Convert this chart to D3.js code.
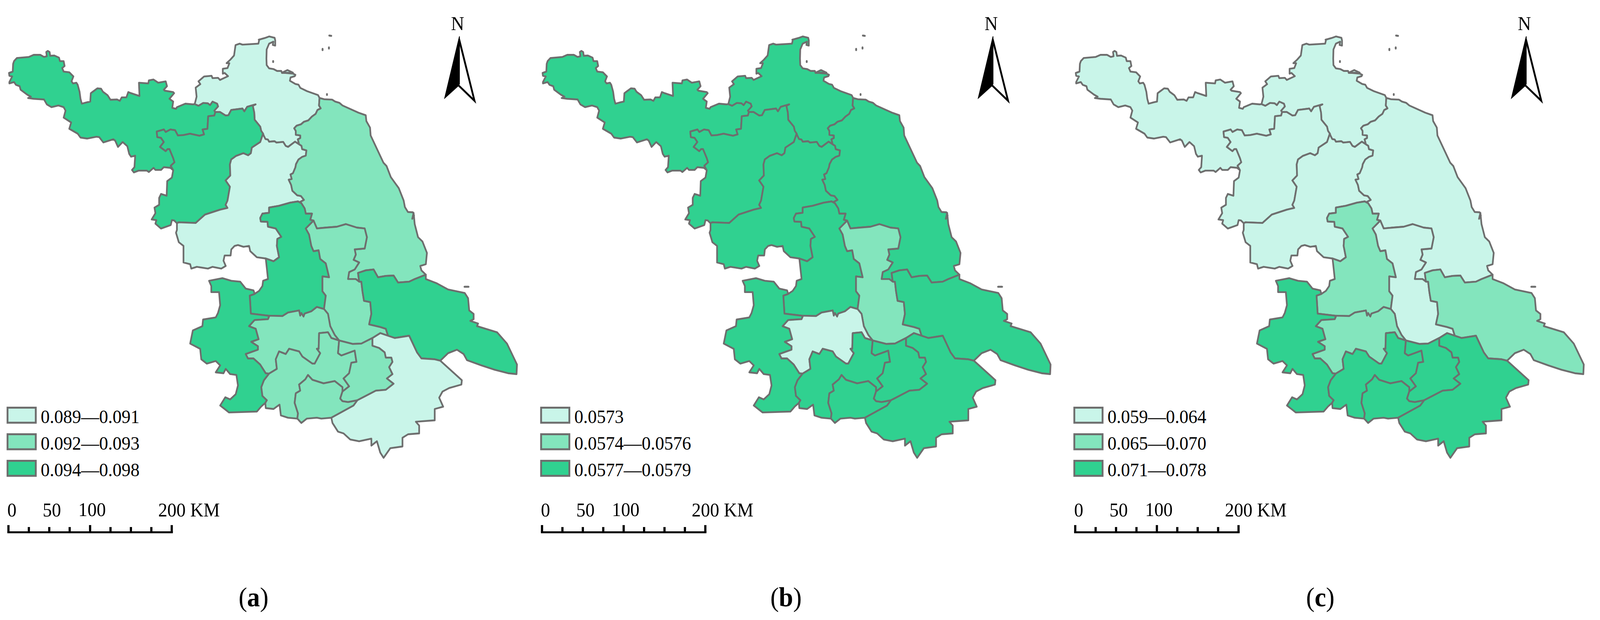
<!DOCTYPE html>
<html><head><meta charset="utf-8">
<script src="https://cdn.jsdelivr.net/npm/d3@7"></script>
<style>html,body{margin:0;padding:0;background:#fff;overflow:hidden;width:100%;height:100%}svg{display:block;width:100vw;height:100vh}text{font-family:"Liberation Serif",serif;fill:#000}</style>
</head><body><div id="chart"></div>
<script>
// ---- classes per region, one list per panel (0 = low, 1 = mid, 2 = high)
const regions   = ["NW","N","C1","C2","E","YZ","TZ","NT","NJ","ZJ","CZ","YX","WX","SZ"];
const classesA  = [2,0,2,0,1,2,1,2,2,1,1,1,1,0];
const classesB  = [2,2,2,2,2,2,1,2,2,0,2,2,2,2];
const classesC  = [0,0,0,0,0,1,0,1,2,1,2,2,2,2];
const legendA   = ["0.089\u20140.091","0.092\u20140.093","0.094\u20140.098"];
const legendB   = ["0.0573","0.0574\u20140.0576","0.0577\u20140.0579"];
const legendC   = ["0.059\u20140.064","0.065\u20140.070","0.071\u20140.078"];
const captions  = ["a","b","c"];
const classColors = ["#C9F5E9","#83E5BD","#30D190"];
const scaleKm   = [0,25,50,75,100,125,150,175,200];
const scaleKmLabels = [0,50,100,200];

// ---- map sheets: traced geometry in three digitising frames
const sheets = {
  f1:{x:d3.scaleLinear([0,1568],[0,800]),  y:d3.scaleLinear([0,1568],[60,620])},
  f2:{x:d3.scaleLinear([0,1568],[500,1450]),y:d3.scaleLinear([0,1568],[500,1200])},
  f8:{x:d3.scaleLinear([0,1500],[700,1200]),y:d3.scaleLinear([0,1500],[60,560])}
};
const arcs = {
 nwOuter:["f1",[[1040,578],[1030,580],[990,575],[945,600],[940,612],[920,605],[925,560],[905,540],[930,500],[925,492],[880,482],[875,475],[892,450],[885,415],[845,425],[820,402],[795,408],[792,430],[742,425],[745,520],[700,500],[685,492],[675,530],[650,530],[640,555],[625,545],[590,547],[575,515],[550,490],[540,468],[520,465],[495,490],[485,500],[482,560],[465,565],[437,575],[430,540],[425,490],[415,440],[408,425],[390,430],[382,415],[392,380],[370,350],[340,345],[332,320],[345,305],[340,270],[320,270],[315,245],[290,230],[268,232],[265,205],[255,197],[247,205],[250,235],[235,240],[215,225],[180,225],[155,240],[90,248],[75,270],[70,290],[68,345],[48,355],[50,375],[65,380],[50,420],[50,430],[75,420],[85,440],[105,450],[110,475],[145,510],[165,525],[150,535],[180,540],[235,545],[250,580],[275,600],[312,588],[340,600],[350,625],[340,675],[380,710],[370,755],[415,790],[430,818],[465,825],[515,812],[530,815],[552,853],[605,830],[615,840],[630,885],[655,850],[680,880],[690,935],[700,955],[722,948],[718,1030],[705,1050],[715,1068],[740,1055],[785,1055],[795,1065],[820,1035],[830,1050],[860,1050],[875,1030],[910,1035],[925,1052]]],
 nwC1:["f1",[[925,1052],[912,1020],[932,995],[925,965],[905,900],[895,900],[885,915],[855,885],[875,850],[860,820],[840,815],[837,775],[875,760],[885,778],[910,760],[935,765],[950,803],[980,800],[1015,790],[1065,805],[1090,795],[1082,760],[1108,755],[1112,665],[1145,660],[1150,635]]],
 nwN:["f1",[[1150,635],[1145,625],[1165,595],[1160,575],[1135,560],[1122,585],[1110,572],[1085,570],[1060,590],[1040,578]]],
 nOuterA:["f1",[[1040,578],[1050,525],[1045,460],[1070,435],[1060,415],[1090,380],[1130,375],[1135,392],[1165,390],[1175,405],[1218,378],[1200,355],[1190,360],[1190,325],[1215,320],[1225,285],[1210,285],[1230,260],[1250,230],[1258,155],[1280,145],[1295,152],[1380,145],[1385,115]]],
 nOuterB:["f8",[[15,125],[65,112],[100,100],[145,110],[150,130],[150,170],[130,165],[135,140],[100,155],[80,200],[78,270],[80,320],[100,345],[135,350],[165,365],[200,365],[205,380],[295,378],[250,358],[205,378],[295,385],[315,395],[310,405],[275,415],[270,440],[315,465],[340,470],[355,495],[410,520],[500,550],[512,572]]],
 nE:["f8",[[512,572],[508,630],[522,652],[495,665],[480,695],[450,715],[420,745],[385,755],[360,775],[325,785],[305,805],[318,825],[318,855],[355,860],[355,880],[335,890],[345,928]]],
 nC2:["f8",[[345,928],[312,908],[255,948],[235,940],[215,910],[160,915],[145,905],[100,908],[90,892],[70,888],[55,860]]],
 nC1:["f1",[[1150,635],[1175,635],[1205,660],[1220,658],[1235,620],[1295,610],[1305,630],[1320,598],[1365,580],[1350,590],[1358,640],[1360,690],[1390,740],[1395,770],[1405,790]]],
 c1C2:["f1",[[1405,790],[1390,850],[1345,890],[1340,930],[1325,945],[1300,930],[1260,950],[1235,975],[1228,1010],[1230,1090],[1205,1125],[1228,1170],[1215,1270],[1205,1300],[1215,1322],[1175,1335],[1095,1370],[1045,1430],[955,1425],[945,1432]]],
 c1Outer:["f1",[[925,1052],[918,1105],[893,1130],[890,1235],[860,1222],[850,1250],[850,1300],[825,1320],[830,1360],[810,1405],[835,1410],[830,1435],[860,1470],[912,1445],[918,1410],[930,1412],[945,1432]]],
 c2OuterA:["f1",[[945,1432],[945,1480],[940,1500],[955,1568]]],
 c2OuterB:["f2",[[0,290],[0,350],[0,385],[30,395],[35,420],[60,410],[110,420],[130,410],[170,420],[190,405],[180,375],[185,345],[212,345],[215,310],[230,290],[245,285],[270,295],[295,290],[300,320],[330,355],[370,362]]],
 c2Yz:["f2",[[370,362],[405,378],[430,355],[420,290],[422,250],[440,238],[415,190],[380,180],[378,152],[348,150],[345,130],[355,105],[385,100],[385,70],[430,60],[480,42],[515,35]]],
 c2E:["f8",[[345,928],[365,940],[370,965],[405,975],[400,1015],[370,1025],[340,1045],[320,1080],[315,1105],[295,1150],[275,1160],[285,1195],[260,1200],[280,1240],[290,1285],[330,1320],[360,1325],[385,1355],[345,1375],[345,1382]]],
 eYz:["f2",[[515,35],[530,45],[545,75],[550,105],[578,105],[570,140],[585,145]]],
 eTz:["f2",[[585,145],[600,190],[640,185],[690,180],[730,165],[780,185],[815,190],[825,240],[815,305],[770,310],[775,340],[765,370],[790,385],[770,425],[745,440],[740,480],[775,480],[790,495]]],
 eNt:["f2",[[790,495],[785,445],[820,430],[855,425],[875,470],[910,462],[945,460],[965,500],[1015,495],[1040,480],[1090,455]]],
 eCoastA:["f8",[[512,572],[550,582],[615,585],[640,600],[675,610],[700,630],[830,685],[890,705],[895,750],[925,800],[930,860],[1035,1070],[1060,1095],[1095,1180],[1160,1265],[1200,1360],[1210,1410],[1235,1448],[1275,1450],[1285,1475],[1270,1500]]],
 eCoastB:["f2",[[1035,100],[1040,165],[1055,240],[1075,265],[1095,330],[1090,395],[1065,405],[1070,430],[1090,455]]],
 yzW1:["f2",[[370,362],[375,420],[380,480],[358,490],[355,520],[340,548],[320,565]]],
 yzNj:["f2",[[320,565],[298,575],[303,678],[380,690]]],
 yzZj:["f2",[[380,690],[445,692],[470,672],[520,660],[525,690],[530,675],[540,695],[545,678],[575,665],[600,640],[632,652]]],
 yzTz:["f2",[[585,145],[550,190],[565,225],[575,290],[585,320],[608,315],[615,365],[640,390],[655,470],[625,465],[625,550],[640,575],[632,652]]],
 njZj:["f2",[[380,690],[385,695],[380,710],[320,715],[295,750],[325,765],[338,825],[305,840],[335,865],[335,885],[280,910],[290,935],[315,935],[345,970],[370,1020],[385,1022]]],
 njOuter:["f2",[[320,565],[315,545],[280,535],[255,495],[215,490],[175,475],[115,490],[125,520],[125,555],[160,555],[165,630],[155,675],[145,700],[88,712],[85,750],[42,775],[30,850],[75,880],[80,940],[105,965],[145,950],[165,975],[145,1015],[180,1020],[190,995],[210,1025],[238,1030],[245,1090],[235,1140],[210,1170],[188,1158],[165,1205],[205,1245],[330,1240],[350,1210],[368,1190]]],
 njCz:["f2",[[385,1022],[362,1060],[350,1100],[355,1150],[375,1175],[368,1190]]],
 ntCoast:["f2",[[1090,455],[1090,480],[1140,505],[1190,540],[1265,560],[1280,590],[1285,660],[1305,680],[1305,710],[1290,720],[1325,735],[1320,750],[1410,785],[1455,850],[1500,970],[1498,1025],[1460,1020],[1400,1000],[1340,975],[1275,945],[1260,910],[1230,885],[1190,905],[1155,948]]],
 ntSz:["f2",[[1155,948],[1130,940],[1070,935],[1050,900],[1015,805],[950,818],[920,805]]],
 ntTz:["f2",[[790,495],[800,495],[805,550],[812,605],[840,612],[845,680],[835,740],[885,755],[910,765],[915,785],[920,805]]],
 tzZj:["f2",[[632,652],[650,680],[660,750],[680,800],[700,832]]],
 tzWx:["f2",[[700,832],[760,852],[800,850],[850,818]]],
 tzSz:["f2",[[850,818],[885,790],[920,805]]],
 zjCz:["f2",[[700,832],[665,818],[650,785],[610,790],[608,880],[600,880],[615,905],[590,965],[580,965],[535,925],[520,895],[475,880],[460,910],[430,895],[415,940],[420,995],[385,1022]]],
 czOuter:["f2",[[368,1190],[370,1220],[405,1225],[432,1200],[438,1262],[470,1275],[512,1280]]],
 czYx:["f2",[[512,1280],[515,1250],[500,1190],[505,1135],[525,1120],[520,1085],[548,1055],[560,1030],[580,1058],[630,1078],[680,1065],[715,1100],[715,1125]]],
 czWx:["f2",[[700,832],[695,905],[710,918],[770,890],[778,955],[755,960],[745,1020],[720,1050],[745,1095],[715,1125]]],
 yxWx:["f2",[[715,1125],[705,1165],[715,1180],[740,1185],[782,1175]]],
 yxSz:["f2",[[782,1175],[765,1205],[665,1275]]],
 yxOuter:["f2",[[512,1280],[530,1305],[555,1280],[600,1275],[620,1280],[665,1275]]],
 wxSz:["f2",[[782,1175],[865,1120],[910,1115],[945,1080],[915,1050],[940,1025],[925,985],[940,955],[935,930],[910,930],[905,900],[880,875],[850,862],[850,818]]],
 szOuter:["f2",[[665,1275],[670,1305],[695,1355],[720,1365],[750,1400],[790,1410],[845,1395],[845,1435],[870,1410],[885,1475],[900,1505],[930,1450],[985,1440],[985,1390],[1010,1370],[1060,1365],[1060,1320],[1045,1298],[1130,1290],[1130,1225],[1168,1212],[1150,1160],[1165,1125],[1195,1105],[1250,1085],[1252,1060],[1155,948]]]
};
const rings = {
 NW:["nwOuter","nwC1","nwN"],
 N:["nOuterA","nOuterB","nE","nC2","-nC1","nwN"],
 C1:["nwC1","nC1","c1C2","-c1Outer"],
 C2:["-c1C2","-nC2","c2E","-c2Yz","-c2OuterB","-c2OuterA"],
 E:["eCoastA","eCoastB","-eNt","-eTz","-eYz","-c2E","-nE"],
 YZ:["c2Yz","eYz","yzTz","-yzZj","-yzNj","-yzW1"],
 TZ:["eTz","ntTz","-tzSz","-tzWx","-tzZj","-yzTz"],
 NT:["eNt","ntCoast","ntSz","-ntTz"],
 NJ:["yzNj","njZj","njCz","-njOuter"],
 ZJ:["yzZj","tzZj","zjCz","-njZj"],
 CZ:["-zjCz","czWx","-czYx","-czOuter","-njCz"],
 YX:["czYx","yxWx","yxSz","-yxOuter"],
 WX:["-czWx","tzWx","-wxSz","-yxWx"],
 SZ:["wxSz","tzSz","-ntSz","-szOuter","-yxSz"]
};
const islands = [["f8",[[592,93],[608,95]]],["f8",[[589,184],[589,193]]],["f8",[[537,195],[537,205]]],["f8",[[133,289],[133,296]]],["f8",[[573,542],[573,549]]],["f2",[[1264,524],[1282,524]]]];

// ---- layout
const panelDx   = [0,1454,2907];
const captionX  = [650,2099,3559];
const W=4360,H=1587;
const colorOf = d3.scaleOrdinal([0,1,2],classColors);
const km = d3.scaleLinear([0,200],[23,468]);
const kmLabelDx = d3.scaleOrdinal(scaleKmLabels,[-3,-18,-32,-37]);
const line = d3.line();
const place = ([f,pts]) => pts.map(p=>[sheets[f].x(p[0]),sheets[f].y(p[1])]);
const ringPts = name => rings[name].flatMap(a=>{
  const rev=a[0]==="-"; const pts=place(arcs[rev?a.slice(1):a]);
  return rev?pts.slice().reverse():pts;
});
const svg = d3.select("#chart").append("svg").attr("viewBox",`0 0 ${W} ${H}`).attr("preserveAspectRatio","none");
svg.append("rect").attr("width",W).attr("height",H).attr("fill","#fff");

const STROKE="#6E6E6E";
[[classesA,legendA],[classesB,legendB],[classesC,legendC]].forEach(([cls,leg],i)=>{
  const g=svg.append("g").attr("transform",`translate(${panelDx[i]},0)`);
  g.selectAll("path.r").data(regions).join("path").attr("class","r")
    .attr("d",n=>line(ringPts(n))+"Z")
    .attr("fill",(n,k)=>colorOf(cls[k]))
    .attr("stroke",STROKE).attr("stroke-width",4.6).attr("stroke-linejoin","round");
  g.selectAll("path.i").data(islands).join("path").attr("class","i")
    .attr("d",d=>line(place(d))).attr("fill","none").attr("stroke",STROKE)
    .attr("stroke-width",5).attr("stroke-linecap","round");
  // legend
  const ly=d3.scalePoint([0,1,2],[1041,1177]);
  g.selectAll("rect.l").data(leg).join("rect").attr("class","l")
    .attr("x",20.5).attr("y",(d,k)=>ly(k)+2.5).attr("width",77).attr("height",38.5)
    .attr("fill",(d,k)=>classColors[k]).attr("stroke",STROKE).attr("stroke-width",5);
  g.selectAll("text.l").data(leg).join("text").attr("class","l")
    .attr("x",111).attr("y",(d,k)=>ly(k)+42).attr("font-size",49).text(d=>d);
  // scale bar
  g.append("rect").attr("x",km(0)-3).attr("width",km(200)-km(0)+6).attr("y",1360).attr("height",5).attr("fill","#000");
  g.selectAll("line.t").data(scaleKm).join("line").attr("class","t")
    .attr("x1",d=>km(d)).attr("x2",d=>km(d)).attr("y2",1362)
    .attr("y1",d=>d%100===0?1344:1349).attr("stroke","#000").attr("stroke-width",6);
  g.selectAll("text.k").data(scaleKmLabels).join("text").attr("class","k")
    .attr("x",d=>km(d)+kmLabelDx(d))
    .attr("y",d=>d===100?1321:1322).attr("font-size",50).text(d=>d===200?"200 KM":d);
  // north arrow
  g.append("text").attr("x",1247).attr("y",77).attr("text-anchor","middle").attr("font-size",50).text("N");
  g.append("path").attr("d",line([[1251,93],[1253,93],[1253,215],[1250,220],[1210,254]])+"Z").attr("fill","#000");
  g.append("path").attr("d",line([[1251,100],[1293,258],[1250,219]])).attr("fill","none").attr("stroke","#000").attr("stroke-width",5);
  // caption
  const cap=svg.append("text").attr("x",captionX[i]).attr("y",1552).attr("font-size",70);
  cap.append("tspan").text("(");
  cap.append("tspan").attr("font-weight","bold").text(captions[i]);
  cap.append("tspan").text(")");
});
</script></body></html>
